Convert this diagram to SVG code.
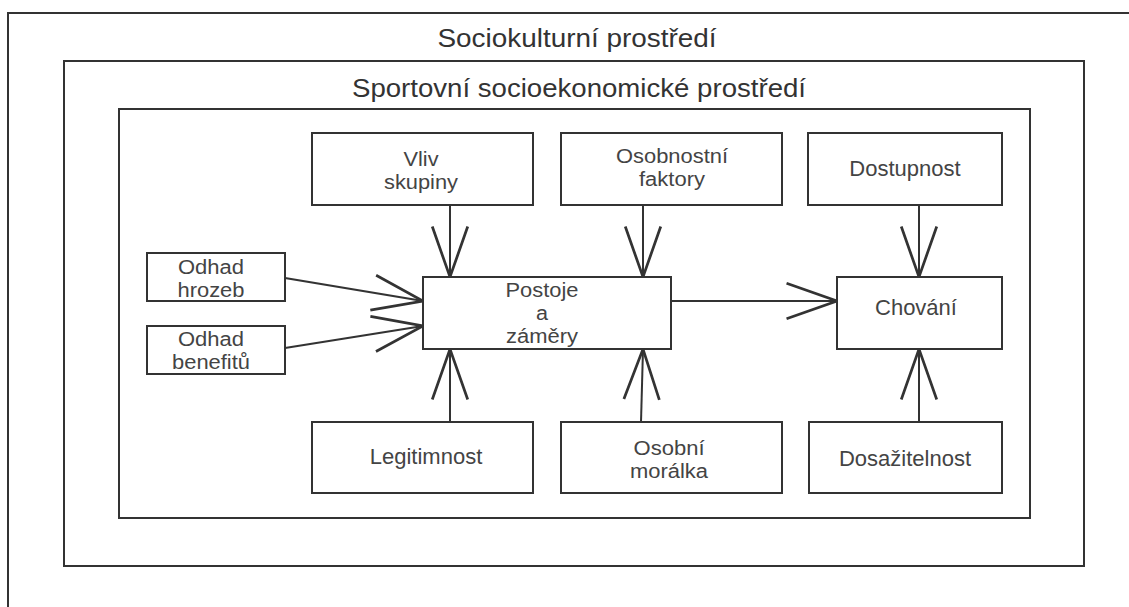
<svg xmlns="http://www.w3.org/2000/svg" width="1129" height="607" viewBox="0 0 1129 607">
<style>
.frame{fill:none;stroke:#333;stroke-width:2}
.box{fill:#fff;stroke:#333;stroke-width:2}
.t{font-family:"Liberation Sans",Arial,sans-serif;font-size:22px;fill:#444;text-anchor:middle}
.m{font-family:"Liberation Sans",Arial,sans-serif;font-size:20px;fill:#444;text-anchor:middle}
.title{font-family:"Liberation Sans",Arial,sans-serif;font-size:26px;fill:#333;text-anchor:middle}
.c{fill:none;stroke:#333;stroke-width:2}
</style>
<defs>
<marker id="arr" markerUnits="userSpaceOnUse" markerWidth="60" markerHeight="60" refX="0" refY="0" viewBox="-40 -20 44 40" orient="auto" overflow="visible">
<path d="M-37,-13 L0,0 L-37,13" fill="none" stroke="#333" stroke-width="2"/>
</marker>
</defs>
<rect width="1129" height="607" fill="#fff"/>
<g id="sociokulturni">
<rect class="frame" x="8" y="13" width="1200" height="700"/>
<text class="title" x="577" y="47" textLength="279" lengthAdjust="spacingAndGlyphs">Sociokulturní prostředí</text>
</g>
<g id="sportovni">
<rect class="frame" x="64" y="61" width="1020" height="505"/>
<text class="title" x="579" y="97" textLength="454" lengthAdjust="spacingAndGlyphs">Sportovní socioekonomické prostředí</text>
</g>
<g id="inner">
<rect class="frame" x="119" y="109" width="911" height="409"/>
</g>
<g id="connectors">
<line class="c" x1="450" y1="205" x2="450" y2="277" marker-end="url(#arr)"/>
<line class="c" x1="643" y1="205" x2="643" y2="277" marker-end="url(#arr)"/>
<line class="c" x1="919" y1="205" x2="919" y2="277" marker-end="url(#arr)"/>
<line class="c" x1="285" y1="278" x2="423" y2="301" marker-end="url(#arr)"/>
<line class="c" x1="285" y1="348" x2="423" y2="326" marker-end="url(#arr)"/>
<line class="c" x1="671" y1="301" x2="837" y2="301" marker-end="url(#arr)"/>
<line class="c" x1="450" y1="422" x2="450" y2="349" marker-end="url(#arr)"/>
<line class="c" x1="641" y1="422" x2="643" y2="349" marker-end="url(#arr)"/>
<line class="c" x1="919" y1="422" x2="919" y2="349" marker-end="url(#arr)"/>
</g>
<g id="vliv">
<rect class="box" x="312" y="133" width="221" height="72"/>
<text class="m" x="421" y="166" textLength="35" lengthAdjust="spacingAndGlyphs">Vliv</text>
<text class="m" x="421" y="189" textLength="74" lengthAdjust="spacingAndGlyphs">skupiny</text>
</g>
<g id="osobnostni">
<rect class="box" x="561" y="133" width="221" height="72"/>
<text class="m" x="672" y="163" textLength="112" lengthAdjust="spacingAndGlyphs">Osobnostní</text>
<text class="m" x="672" y="186" textLength="66" lengthAdjust="spacingAndGlyphs">faktory</text>
</g>
<g id="dostupnost">
<rect class="box" x="808" y="133" width="194" height="72"/>
<text class="t" x="905" y="176">Dostupnost</text>
</g>
<g id="hrozeb">
<rect class="box" x="147" y="253" width="138" height="48"/>
<text class="m" x="211" y="274" textLength="66" lengthAdjust="spacingAndGlyphs">Odhad</text>
<text class="m" x="211" y="297" textLength="67" lengthAdjust="spacingAndGlyphs">hrozeb</text>
</g>
<g id="benefitu">
<rect class="box" x="147" y="326" width="138" height="48"/>
<text class="m" x="211" y="346" textLength="66" lengthAdjust="spacingAndGlyphs">Odhad</text>
<text class="m" x="211" y="369" textLength="78" lengthAdjust="spacingAndGlyphs">benefitů</text>
</g>
<g id="postoje">
<rect class="box" x="423" y="277" width="248" height="72"/>
<text class="m" x="542" y="297" textLength="73" lengthAdjust="spacingAndGlyphs">Postoje</text>
<text class="m" x="542" y="320" textLength="12" lengthAdjust="spacingAndGlyphs">a</text>
<text class="m" x="542" y="343" textLength="72" lengthAdjust="spacingAndGlyphs">záměry</text>
</g>
<g id="chovani">
<rect class="box" x="837" y="277" width="165" height="72"/>
<text class="t" x="916" y="315">Chování</text>
</g>
<g id="legitimnost">
<rect class="box" x="312" y="422" width="221" height="71"/>
<text class="t" x="426" y="464">Legitimnost</text>
</g>
<g id="moralka">
<rect class="box" x="561" y="422" width="221" height="71"/>
<text class="m" x="669" y="455" textLength="71" lengthAdjust="spacingAndGlyphs">Osobní</text>
<text class="m" x="669" y="478" textLength="78" lengthAdjust="spacingAndGlyphs">morálka</text>
</g>
<g id="dosazitelnost">
<rect class="box" x="809" y="422" width="193" height="71"/>
<text class="t" x="905" y="466">Dosažitelnost</text>
</g>
</svg>
